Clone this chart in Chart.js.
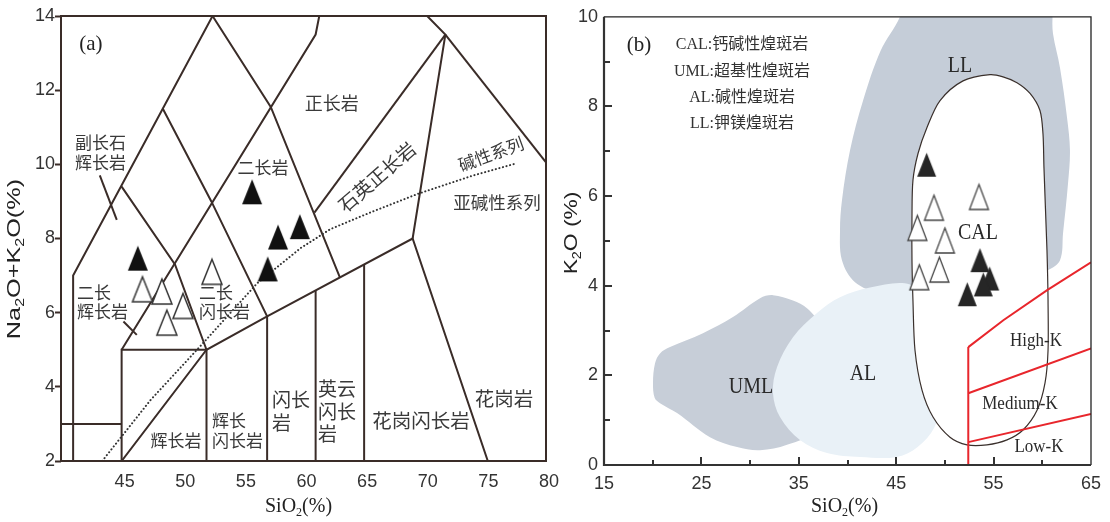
<!DOCTYPE html>
<html>
<head>
<meta charset="utf-8">
<script src="https://cdn.jsdelivr.net/npm/chart.js@4.4.1/dist/chart.umd.min.js"></script>
<style>
  html, body { margin: 0; padding: 0; background: #fff; }
  #wrap { position: relative; width: 1110px; height: 522px; overflow: hidden; background: #fff; }
  canvas { position: absolute; top: 0; }
  #tas { left: 0; }
  #kso { left: 560px; }
</style>
</head>
<body>
<div id="wrap">
  <canvas id="tas" width="560" height="522"></canvas>
  <canvas id="kso" width="550" height="522"></canvas>
</div>
<script>
// ---------- (a) TAS classification of plutonic rocks ----------
const tasBoundaries = [
  [[41, 2], [41, 7], [52.5, 14]],
  [[40, 3], [45, 3]],
  [[45, 2], [45, 5], [52, 5], [52, 2]],
  [[45, 2], [52, 5], [57, 5.9], [69, 8], [75.2, 2]],
  [[57, 2], [57, 5.9]],
  [[61, 2], [61, 6.6]],
  [[65, 2], [65, 7.3]],
  [[45, 5], [61, 13.5], [61.3, 14]],
  [[45, 9.4], [49.4, 7.3], [52, 5]],
  [[48.4, 11.5], [52.4, 9.0], [57, 5.9]],
  [[52.5, 14], [57.3, 11.55], [63, 6.95]],
  [[60.9, 8.7], [71.7, 13.5]],
  [[69, 8], [71.7, 13.5], [70.2, 14]],
  [[71.7, 13.5], [80, 10.05]],
  [[43.2, 9.7], [44.6, 8.5]],
  [[45.15, 5.76], [46.25, 5.4]]
];
// alkaline / subalkaline divide
const alkalineDivide = [[43.4, 2.0], [47.4, 3.65], [51.5, 5.1], [56.2, 6.8], [59.8, 7.75], [62.2, 8.25], [65.5, 8.7], [69.4, 9.2], [74, 9.7], [77.6, 10.03]];
const tasFilled = [[46.34, 7.47], [55.76, 9.26], [57.9, 8.04], [59.7, 8.32], [57.05, 7.18]];
const tasOpen = [[46.72, 6.63], [48.32, 6.57], [50.06, 6.18], [48.73, 5.73], [52.45, 7.1]];

// ---------- (b) K2O vs SiO2, lamprophyre fields ----------
const umlField = [[38.2, 2.1], [37.18, 3.12], [35.84, 3.5], [34.4, 3.67], [32.35, 3.79], [31.02, 3.72], [28.24, 3.3], [25.16, 2.94], [21.78, 2.63], [20.75, 2.49], [20.24, 2.27], [20.03, 1.83], [20.2, 1.5], [20.75, 1.38], [22.5, 1.16], [25.88, 0.62], [28.66, 0.4], [31.02, 0.33], [33.79, 0.45], [36.66, 0.78], [38.2, 2.1]];
const llField = [[45.7, 10.4], [61.2, 10.4], [61.05, 10.0], [61.1, 9.62], [61.82, 8.86], [62.54, 7.75], [62.84, 7.02], [62.64, 6.28], [62.13, 5.17], [61.82, 4.57], [60.5, 4.34], [55.66, 3.9], [50.5, 3.67], [46.4, 3.67], [43.3, 3.83], [40.77, 4.08], [39.43, 4.57], [39.23, 5.23], [39.43, 5.9], [40.26, 7.02], [41.6, 8.13], [43.4, 9.24], [45.39, 10.0], [45.7, 10.4]];
const alField = [[48.5, 3.6], [46.42, 4.03], [42.31, 3.96], [39.23, 3.74], [36.87, 3.39], [34.4, 2.85], [32.76, 2.18], [32.35, 1.6], [33.07, 1.07], [35.12, 0.56], [37.9, 0.27], [41.3, 0.18], [45.08, 0.18], [47.2, 0.4], [48.9, 0.83], [50.0, 1.6], [50.0, 3.0], [48.5, 3.6]];
const calField = [[60.55, 4.2], [60.59, 3.67], [60.59, 2.56], [60.28, 1.83], [59.46, 1.22], [58.02, 0.78], [56.38, 0.56], [54.32, 0.45], [52.27, 0.45], [50.52, 0.62], [48.78, 1.07], [47.65, 1.67], [46.93, 2.56], [46.72, 3.67], [46.62, 4.57], [46.62, 5.52], [46.72, 6.35], [47.24, 6.95], [48.16, 7.53], [49.5, 8.13], [51.86, 8.57], [54.63, 8.71], [55.97, 8.66], [57.4, 8.53], [58.74, 8.29], [59.76, 7.91], [60.07, 7.39], [60.17, 6.64], [60.48, 4.79], [60.55, 4.2]];
const kSeriesLines = [
  [[52.4, 0], [52.4, 2.63]],
  [[52.4, 0.51], [65, 1.14]],
  [[52.4, 1.6], [65, 2.6]],
  [[52.4, 2.63], [56, 3.23], [60.5, 3.9], [65, 4.52]]
];
const kFilled = [[48.13, 6.7], [54.6, 4.16], [53.6, 4.57], [53.94, 4.03], [52.3, 3.81]];
const kOpen = [[53.5, 5.98], [48.88, 5.74], [47.17, 5.29], [50.0, 5.01], [49.43, 4.36], [47.37, 4.19]];

// ---------- text placed in data coordinates ----------
const tasFieldLabels = [
  { text: '副长石', x: 43.26, y: 10.58 },
  { text: '辉长岩', x: 43.26, y: 10.04 },
  { text: '二长岩', x: 56.66, y: 9.9 },
  { text: '正长岩', x: 62.33, y: 11.65, size: 18 },
  { text: '石英正长岩', x: 66.06, y: 9.66, angle: -41, size: 19 },
  { text: '碱性系列', x: 75.46, y: 10.28, angle: -20 },
  { text: '亚碱性系列', x: 75.96, y: 8.98, size: 17.5 },
  { text: '二长', x: 41.32, y: 6.53, align: 'left' },
  { text: '辉长岩', x: 41.32, y: 6.02, align: 'left' },
  { text: '二长', x: 51.38, y: 6.53, align: 'left' },
  { text: '闪长岩', x: 51.38, y: 6.02, align: 'left' },
  { text: '辉长岩', x: 49.48, y: 2.54 },
  { text: '辉长', x: 52.45, y: 3.08, align: 'left' },
  { text: '闪长岩', x: 52.45, y: 2.54, align: 'left' },
  { text: '闪长', x: 57.4, y: 3.65, align: 'left', size: 19 },
  { text: '岩', x: 57.4, y: 3.03, align: 'left', size: 19 },
  { text: '英云', x: 61.2, y: 3.94, align: 'left', size: 19 },
  { text: '闪长', x: 61.2, y: 3.32, align: 'left', size: 19 },
  { text: '岩', x: 61.2, y: 2.73, align: 'left', size: 19 },
  { text: '花岗闪长岩', x: 69.69, y: 3.08, size: 19.5 },
  { text: '花岗岩', x: 76.54, y: 3.67, size: 19.5 }
];
const kFieldLabels = [
  { text: 'LL', x: 51.55, y: 8.89 },
  { text: 'CAL', x: 53.4, y: 5.17 },
  { text: 'UML', x: 30.09, y: 1.74 },
  { text: 'AL', x: 41.59, y: 2.03 },
  { text: 'High-K', x: 59.35, y: 2.76, size: 17 },
  { text: 'Medium-K', x: 57.71, y: 1.36, size: 17 },
  { text: 'Low-K', x: 59.66, y: 0.4, size: 17 }
];
const kLegendLines = [
  { text: 'CAL:钙碱性煌斑岩', x: 29.17, y: 9.38 },
  { text: 'UML:超基性煌斑岩', x: 29.17, y: 8.78 },
  { text: 'AL:碱性煌斑岩', x: 29.17, y: 8.2 },
  { text: 'LL:钾镁煌斑岩', x: 29.17, y: 7.62 }
];

const SANS = '"Liberation Sans", Arial, sans-serif';
const SERIF = '"Liberation Serif", "Times New Roman", serif';
const CJK = '"Noto Sans CJK SC", sans-serif';
const SERIF_CJK = '"Liberation Serif", "Noto Sans CJK SC", serif';
const INK = '#3a2c28';

Chart.defaults.font.family = SANS;

function toPts(arr) { return arr.map(([x, y]) => ({ x, y })); }

function triangleSprite(w, h, fill, stroke, lw) {
  const pad = Math.ceil(lw || 0) + 1;
  const c = document.createElement('canvas');
  c.width = w + 2 * pad;
  c.height = h + 2 * pad;
  const g = c.getContext('2d');
  g.beginPath();
  g.moveTo(pad + w / 2, pad);
  g.lineTo(pad + w, pad + h);
  g.lineTo(pad, pad + h);
  g.closePath();
  g.fillStyle = fill;
  g.fill();
  if (lw) { g.lineWidth = lw; g.strokeStyle = stroke; g.stroke(); }
  return c;
}

// rich text: parts = [[text, isSubscript], ...]
function drawText(ctx, parts, x, y, o) {
  const size = o.size || 17;
  const family = o.family || CJK;
  const big = `${size}px ${family}`;
  const small = `${Math.round(size * 0.62)}px ${family}`;
  ctx.save();
  ctx.translate(x, y);
  if (o.angle) ctx.rotate(o.angle * Math.PI / 180);
  ctx.scale(o.sx || 1, o.sy || 1);
  let total = 0;
  const widths = parts.map(([t, s]) => { ctx.font = s ? small : big; const w = ctx.measureText(t).width; total += w; return w; });
  let cx = o.align === 'left' ? 0 : -total / 2;
  ctx.fillStyle = o.color || '#333';
  ctx.textBaseline = 'middle';
  ctx.textAlign = 'left';
  parts.forEach(([t, s], i) => {
    ctx.font = s ? small : big;
    ctx.fillText(t, cx, s ? size * 0.3 : 0);
    cx += widths[i];
  });
  ctx.restore();
}

// keep the plot frame fixed: no extra side padding for edge tick labels
function fixHorizontal(height) {
  return s => { s.height = height; s.paddingLeft = 0; s.paddingRight = 0; };
}

const commonOpts = {
  responsive: false,
  animation: false,
  events: [],
  plugins: { legend: { display: false }, tooltip: { enabled: false } }
};

// ---------------- panel (a) ----------------
const tasDatasets = [];
tasDatasets.push({
  data: toPts(tasFilled), showLine: false, order: 1,
  pointStyle: triangleSprite(20, 25, '#111', null, 0), pointRadius: 10
});
tasDatasets.push({
  data: toPts(tasOpen), showLine: false, order: 2,
  pointStyle: triangleSprite(20, 25, '#fff', '#333', 1.5), pointRadius: 10
});
tasDatasets.push({
  data: toPts(alkalineDivide), showLine: true, order: 4, pointRadius: 0,
  borderColor: '#333', borderWidth: 2, borderDash: [0.1, 3.6], borderCapStyle: 'round'
});
tasBoundaries.forEach(seg => tasDatasets.push({
  data: toPts(seg), showLine: true, order: 5, pointRadius: 0,
  borderColor: INK, borderWidth: 2, borderJoinStyle: 'miter'
}));

const tasDecor = {
  id: 'tasDecor',
  afterDraw(chart) {
    const { ctx, chartArea: a, scales: { x, y } } = chart;
    ctx.save();
    ctx.strokeStyle = INK;
    ctx.lineWidth = 2;
    ctx.strokeRect(a.left, a.top, a.right - a.left, a.bottom - a.top);
    ctx.restore();
    tasFieldLabels.forEach(l => drawText(ctx, [[l.text]], x.getPixelForValue(l.x), y.getPixelForValue(l.y),
      { size: l.size || 17, angle: l.angle, align: l.align, color: '#3a3a3a' }));
    drawText(ctx, [['(a)']], x.getPixelForValue(42.47), y.getPixelForValue(13.22), { size: 21, family: SERIF, color: '#222' });
    // axis titles
    drawText(ctx, [['SiO'], ['2', 1], ['(%)']], (a.left + a.right) / 2 - 5, a.bottom + 46, { size: 20, family: SERIF, color: '#222' });
    drawText(ctx, [['Na'], ['2', 1], ['O+K'], ['2', 1], ['O(%)']], 15, 259, { size: 19, family: SANS, angle: -90, sx: 1.33, color: '#222' });
  }
};

new Chart(document.getElementById('tas'), {
  type: 'scatter',
  data: { datasets: tasDatasets },
  options: {
    ...commonOpts,
    layout: { padding: { left: 0, right: 14, top: 16, bottom: 0 } },
    scales: {
      x: {
        type: 'linear', min: 40, max: 80,
        afterFit: fixHorizontal(61),
        ticks: { stepSize: 5, autoSkip: false, maxRotation: 0, padding: 10, labelOffset: 3, color: '#333', font: { size: 18 },
          callback: v => (v === 40 ? '' : v) },
        grid: { display: false, drawTicks: false },
        border: { display: false }
      },
      y: {
        type: 'linear', min: 2, max: 14,
        afterFit(s) { s.width = 61; },
        ticks: { stepSize: 2, autoSkip: false, padding: 0, color: '#333', font: { size: 18 } },
        grid: { display: true, drawOnChartArea: false, drawTicks: true, tickLength: 6, tickWidth: 2, tickColor: INK },
        border: { display: false }
      }
    }
  },
  plugins: [tasDecor]
});

// ---------------- panel (b) ----------------
const kDatasets = [];
kDatasets.push({
  data: toPts(kFilled), showLine: false, order: 1,
  pointStyle: triangleSprite(19, 24, '#262626', null, 0), pointRadius: 10
});
kDatasets.push({
  data: toPts(kOpen), showLine: false, order: 2,
  pointStyle: triangleSprite(19, 25, '#fff', '#444', 1.3), pointRadius: 10
});
kSeriesLines.forEach(seg => kDatasets.push({
  data: toPts(seg), showLine: true, order: 5, pointRadius: 0,
  borderColor: '#e8262c', borderWidth: 2
}));
kDatasets.push({
  data: toPts(calField), showLine: true, order: 7, pointRadius: 0, tension: 0.3, capBezierPoints: false,
  borderColor: '#3a302c', borderWidth: 1.2, fill: 'shape', backgroundColor: '#ffffff'
});
kDatasets.push({
  data: toPts(alField), showLine: true, order: 8, pointRadius: 0, tension: 0.35, capBezierPoints: false,
  borderWidth: 0, borderColor: 'rgba(0,0,0,0)', fill: 'shape', backgroundColor: '#e9f1f7'
});
kDatasets.push({
  data: toPts(llField), showLine: true, order: 9, pointRadius: 0, tension: 0.35, capBezierPoints: false,
  borderWidth: 0, borderColor: 'rgba(0,0,0,0)', fill: 'shape', backgroundColor: '#c5cdd8'
});
kDatasets.push({
  data: toPts(umlField), showLine: true, order: 10, pointRadius: 0, tension: 0.35, capBezierPoints: false,
  borderWidth: 0, borderColor: 'rgba(0,0,0,0)', fill: 'shape', backgroundColor: '#c7ced8'
});

const kDecor = {
  id: 'kDecor',
  afterDraw(chart) {
    const { ctx, chartArea: a, scales: { x, y } } = chart;
    ctx.save();
    // inner tick marks
    ctx.strokeStyle = '#333';
    ctx.lineWidth = 2;
    ctx.beginPath();
    x.ticks.forEach(t => {
      if (t.value <= x.min || t.value >= x.max) return;
      const px = Math.round(x.getPixelForValue(t.value));
      const len = (t.value - 15) % 10 === 0 ? 8 : 5;
      ctx.moveTo(px, a.bottom); ctx.lineTo(px, a.bottom - len);
    });
    y.ticks.forEach(t => {
      if (t.value <= y.min || t.value >= y.max) return;
      const py = Math.round(y.getPixelForValue(t.value));
      const len = t.value % 2 === 0 ? 8 : 6;
      ctx.moveTo(a.left, py); ctx.lineTo(a.left + len, py);
    });
    ctx.stroke();
    // frame: heavy axes, light top/right
    ctx.lineWidth = 1.3;
    ctx.strokeStyle = '#222';
    ctx.beginPath();
    ctx.moveTo(a.left, a.top); ctx.lineTo(a.right, a.top); ctx.lineTo(a.right, a.bottom);
    ctx.stroke();
    ctx.lineWidth = 2.2;
    ctx.strokeStyle = '#333';
    ctx.beginPath();
    ctx.moveTo(a.left, a.top); ctx.lineTo(a.left, a.bottom); ctx.lineTo(a.right, a.bottom);
    ctx.stroke();
    ctx.restore();
    kFieldLabels.forEach(l => drawText(ctx, [[l.text]], x.getPixelForValue(l.x), y.getPixelForValue(l.y),
      { size: l.size || 20, family: SERIF, sy: 1.12, color: '#2a2a2a' }));
    kLegendLines.forEach(l => drawText(ctx, [[l.text]], x.getPixelForValue(l.x), y.getPixelForValue(l.y),
      { size: 16, family: SERIF_CJK, color: '#333' }));
    drawText(ctx, [['(b)']], x.getPixelForValue(18.6), y.getPixelForValue(9.35), { size: 21, family: SERIF, color: '#222' });
    drawText(ctx, [['SiO'], ['2', 1], ['(%)']], (a.left + a.right) / 2 - 3, a.bottom + 42, { size: 20, family: SERIF, color: '#222' });
    drawText(ctx, [['K'], ['2', 1], ['O (%)']], 12, 233, { size: 19, family: SANS, angle: -90, sx: 1.2, color: '#222' });
  }
};

new Chart(document.getElementById('kso'), {
  type: 'scatter',
  data: { datasets: kDatasets },
  options: {
    ...commonOpts,
    layout: { padding: { left: 0, right: 19, top: 16, bottom: 0 } },
    scales: {
      x: {
        type: 'linear', min: 15, max: 65,
        afterFit: fixHorizontal(57),
        ticks: { stepSize: 5, autoSkip: false, maxRotation: 0, padding: 8, color: '#333', font: { size: 18 },
          callback: v => ((v - 15) % 10 === 0 ? v : '') },
        grid: { display: false, drawTicks: false },
        border: { display: false }
      },
      y: {
        type: 'linear', min: 0, max: 10,
        afterFit(s) { s.width = 44; },
        ticks: { stepSize: 1, autoSkip: false, padding: 6, color: '#333', font: { size: 18 },
          callback: v => (v % 2 === 0 ? v : '') },
        grid: { display: false, drawTicks: false },
        border: { display: false }
      }
    }
  },
  plugins: [kDecor]
});
</script>
</body>
</html>
